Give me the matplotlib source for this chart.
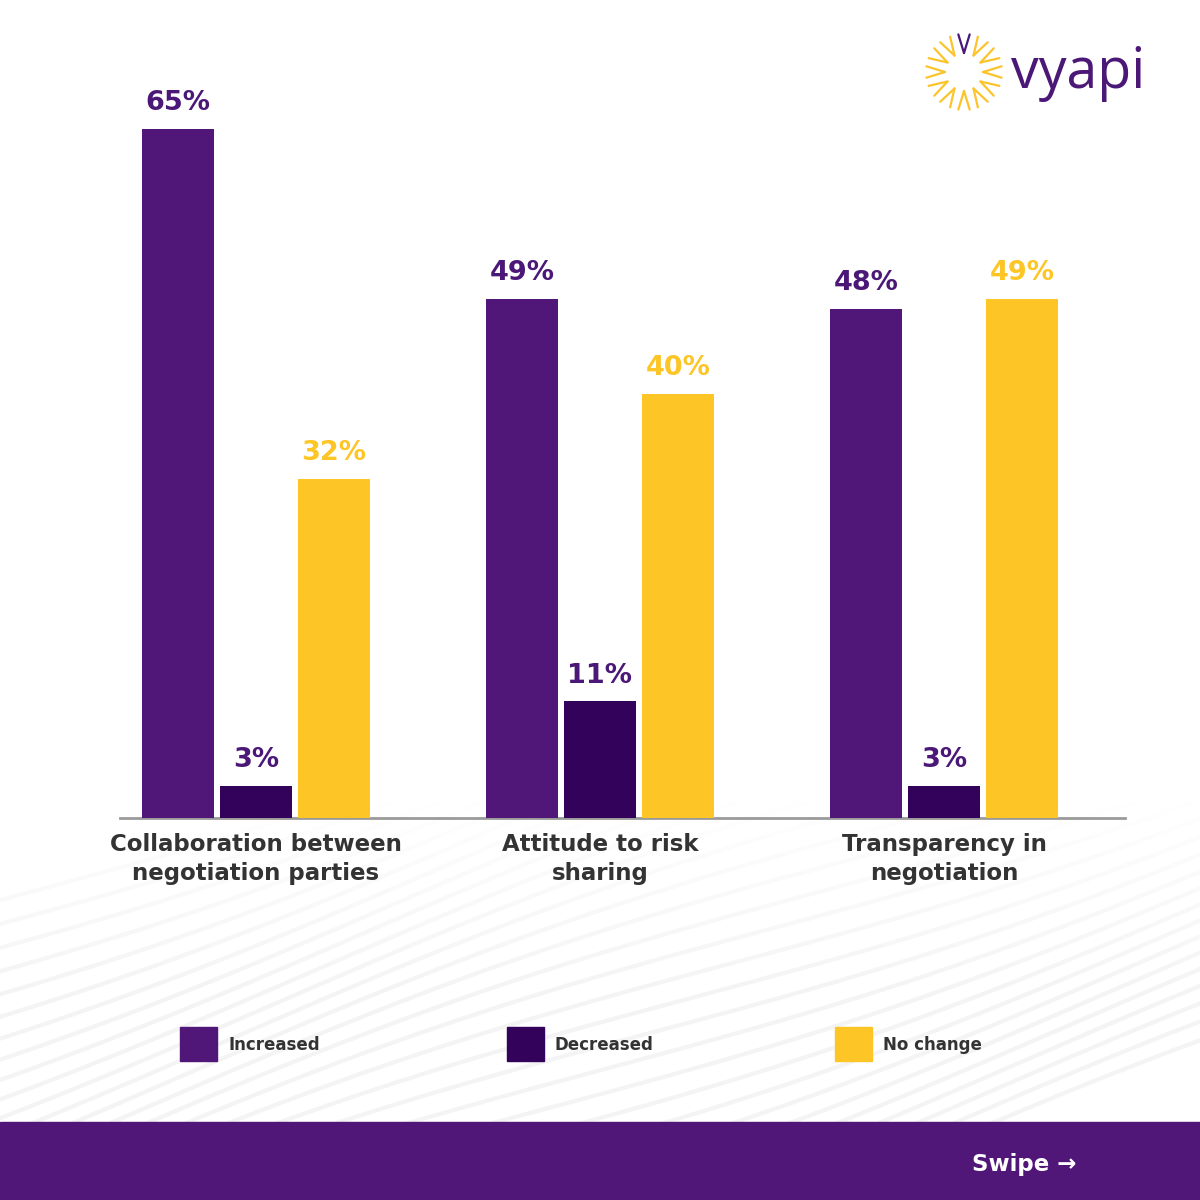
import numpy as np
import matplotlib
matplotlib.use("Agg")
from matplotlib import pyplot as plt
from matplotlib.patches import Rectangle

# data
categories = ["Collaboration between\nnegotiation parties",
              "Attitude to risk\nsharing",
              "Transparency in\nnegotiation"]
series = ["Increased", "Decreased", "No change"]
increased = [65, 49, 48]
decreased = [3, 11, 3]
no_change = [32, 40, 49]

colors = ["#501778", "#33025a", "#fdc526"]
label_colors = ["#4b1877", "#4b1877", "#fdc526"]
text_dark = "#333333"

fig = plt.figure(figsize=(12, 12), dpi=100)
fig.patch.set_facecolor("white")

# overlay in pixel coordinates for decoration
bg = fig.add_axes([0, 0, 1, 1], zorder=0)
bg.set_xlim(0, 1200)
bg.set_ylim(1200, 0)
bg.axis("off")

# faint wavy background lines rising to the right
xs = np.linspace(0, 1200, 300)
for k in range(30):
    y0 = 900 + k * 20
    yy = y0 - 0.35 * xs + 20 * np.sin(xs / 240.0 + k * 0.2)
    bg.plot(xs, yy, color="#f4f4f4", lw=3, zorder=0)
# fade the lines out towards the top
fade = np.ones((200, 2, 4))
fade[..., 3] = np.linspace(1, 0, 200)[:, None]
bg.imshow(fade, extent=(0, 1200, 1000, 800), aspect="auto", zorder=0.5)
bg.add_patch(Rectangle((0, 0), 1200, 800, color="white", zorder=0.5))
bg.set_xlim(0, 1200)
bg.set_ylim(1200, 0)

# bottom band
bg.add_patch(Rectangle((0, 1122), 1200, 78, color="#501778", zorder=1))
bg.text(972, 1164, "Swipe \u2192", color="white", fontsize=16.5, fontweight="bold",
        va="center", ha="left", family="DejaVu Sans", zorder=2)

# logo
cx, cy = 964, 72
for i in range(12):
    th = np.pi / 2 + i * 2 * np.pi / 12
    col = "#4b1877" if i == 0 else "#fcc42b"
    r_in, r_out, da = 19, 38, 0.15
    ax_ = cx + r_in * np.cos(th)
    ay_ = cy - r_in * np.sin(th)
    for s in (-1, 1):
        bx = cx + r_out * np.cos(th + s * da)
        by = cy - r_out * np.sin(th + s * da)
        bg.plot([ax_, bx], [ay_, by], color=col, lw=1.6, solid_capstyle="round", zorder=2)
bg.text(1011, 88, "vyapi", color="#4b1877", fontsize=40, family="Open Sans",
        va="baseline", ha="left", zorder=2)

# legend
legend_x = [180, 507, 835]
for name, col, lx in zip(series, colors, legend_x):
    bg.add_patch(Rectangle((lx, 1027), 37, 34, color=col, zorder=2))
    bg.text(lx + 48, 1045, name, color=text_dark, fontsize=12, fontweight="bold",
            va="center", ha="left", zorder=2)

# main chart
ax = fig.add_axes([120 / 1200, 1 - 818 / 1200, 1005 / 1200, 798 / 1200], zorder=2)
ax.patch.set_alpha(0)
px_per_pct = 10.6
ax.set_ylim(0, 798 / px_per_pct)
unit = 344.0
ax.set_xlim(-136 / unit, (1005 - 136) / unit)

x = np.arange(len(categories))
width = 72 / unit
offset = 78 / unit
values = [increased, decreased, no_change]
for j, (vals, col, lcol) in enumerate(zip(values, colors, label_colors)):
    pos = x + (j - 1) * offset
    ax.bar(pos, vals, width=width, color=col, zorder=3)
    for p, v in zip(pos, vals):
        ax.text(p, v + 1.2, f"{v}%", color=lcol, fontsize=19.5, fontweight="bold",
                ha="center", va="bottom")

for i, cat in enumerate(categories):
    ax.text(x[i], -1.4, cat, color=text_dark, fontsize=16.5, fontweight="bold",
            ha="center", va="top", linespacing=1.35)

for sp in ["top", "left", "right"]:
    ax.spines[sp].set_visible(False)
ax.spines["bottom"].set_color("#9a9a9a")
ax.spines["bottom"].set_linewidth(2)
ax.set_xticks([])
ax.set_yticks([])

fig.savefig("out.png", dpi=100)
